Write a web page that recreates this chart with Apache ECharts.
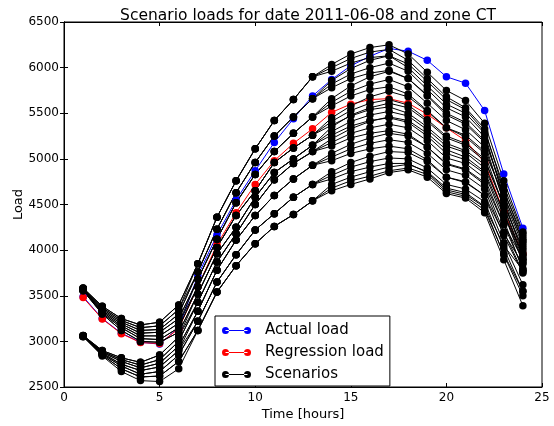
<!DOCTYPE html>
<html><head><meta charset="utf-8">
<script src="https://cdn.jsdelivr.net/npm/echarts@6/dist/echarts.min.js"></script>
<style>html,body{margin:0;padding:0;background:#fff}#c{width:554px;height:426px}</style>
</head><body><div id="c"></div>
<script>
const hours = [1,2,3,4,5,6,7,8,9,10,11,12,13,14,15,16,17,18,19,20,21,22,23,24];
const actualLoad = [3490,3250,3090,2990,2970,3150,3720,4165,4550,4870,5180,5440,5690,5870,6020,6125,6210,6180,6080,5900,5830,5530,4835,4240];
const regressionLoad = [3480,3246,3084,2987,2976,3140,3600,4060,4410,4720,4980,5170,5330,5510,5600,5650,5660,5610,5490,5340,5200,4960,4420,3960];

const s01 = [3585,3385,3250,3180,3210,3400,3850,4360,4760,5110,5420,5650,5900,6035,6150,6220,6250,6150,5950,5750,5640,5390,4760,4200];
const s02 = [3580,3370,3230,3150,3170,3350,3850,4360,4760,5110,5420,5650,5900,6000,6100,6170,6200,6080,5880,5680,5560,5330,4650,4150];
const s03 = [3585,3385,3250,3180,3210,3400,3850,4360,4760,5110,5420,5650,5900,5960,6050,6110,6130,6000,5800,5600,5500,5280,4560,4050];
const s04 = [3580,3370,3230,3150,3170,3350,3760,4230,4630,4960,5250,5460,5660,5860,5990,6080,6130,6040,5850,5650,5540,5300,4700,4180];
const s05 = [3575,3355,3210,3120,3130,3300,3760,4230,4630,4960,5250,5460,5660,5820,5930,6000,6050,5960,5760,5560,5460,5240,4600,4100];
const s06 = [3575,3355,3210,3120,3130,3300,3760,4230,4630,4960,5250,5460,5660,5780,5880,5940,5970,5880,5690,5480,5380,5180,4520,3990];
const s07 = [3570,3340,3190,3090,3100,3250,3680,4120,4520,4830,5080,5280,5460,5660,5800,5900,5960,5880,5700,5500,5400,5200,4650,4120];
const s08 = [3570,3340,3190,3090,3100,3250,3680,4120,4520,4830,5080,5280,5460,5620,5740,5820,5870,5790,5610,5420,5320,5130,4550,3950];
const s09 = [3565,3325,3170,3060,3060,3200,3680,4120,4520,4830,5080,5280,5460,5580,5690,5760,5790,5710,5530,5340,5240,5060,4470,3900];
const s10 = [3565,3325,3170,3060,3060,3200,3600,4030,4380,4650,4960,5120,5260,5450,5580,5680,5740,5680,5520,5340,5260,5080,4600,4080];
const s11 = [3560,3310,3150,3030,3020,3150,3600,4030,4380,4650,4960,5120,5260,5410,5530,5610,5650,5590,5430,5250,5170,5000,4480,3930];
const s12 = [3560,3310,3150,3030,3020,3150,3600,4030,4380,4650,4960,5120,5260,5370,5470,5540,5570,5500,5350,5170,5090,4940,4400,3860];
const s13 = [3555,3300,3120,3000,2990,3100,3520,3960,4250,4580,4850,5000,5150,5350,5480,5560,5610,5560,5410,5230,5150,4980,4500,4020];
const s14 = [3555,3300,3120,3000,2990,3100,3520,3960,4250,4580,4850,5000,5150,5300,5410,5480,5520,5470,5320,5140,5070,4900,4420,3880];
const s15 = [3065,2900,2820,2770,2850,3050,3520,3960,4250,4580,4850,5000,5150,5260,5360,5420,5450,5400,5250,5060,4990,4840,4330,3780];
const s16 = [3065,2900,2820,2770,2850,3050,3430,3870,4180,4500,4770,4950,5080,5220,5330,5410,5460,5420,5280,5100,5020,4860,4380,3960];
const s17 = [3062,2890,2800,2740,2800,3000,3430,3870,4180,4500,4770,4950,5080,5180,5280,5340,5380,5340,5200,5010,4950,4790,4280,3800];
const s18 = [3062,2890,2800,2740,2800,3000,3430,3870,4180,4500,4770,4950,5080,5140,5230,5280,5310,5270,5130,4940,4880,4720,4200,3760];
const s19 = [3060,2880,2780,2710,2760,2950,3330,3780,4110,4380,4600,4780,4930,5060,5160,5230,5280,5250,5130,4950,4890,4740,4280,3900];
const s20 = [3060,2880,2780,2710,2760,2950,3330,3780,4110,4380,4600,4780,4930,5020,5110,5170,5210,5180,5060,4880,4820,4670,4160,3750];
const s21 = [3058,2870,2750,2680,2720,2900,3330,3780,4110,4380,4600,4780,4930,4980,5060,5110,5140,5110,4990,4800,4750,4600,4080,3620];
const s22 = [3058,2870,2750,2680,2720,2900,3220,3650,3950,4220,4400,4580,4720,4860,4960,5030,5080,5070,4970,4800,4740,4600,4180,3850];
const s23 = [3056,2860,2730,2640,2670,2850,3220,3650,3950,4220,4400,4580,4720,4820,4910,4970,5010,5000,4900,4720,4670,4530,4020,3550];
const s24 = [3056,2860,2730,2640,2670,2850,3220,3650,3950,4220,4400,4580,4720,4780,4860,4910,4950,4950,4850,4660,4610,4470,3950,3500];
const s25 = [3054,2850,2700,2610,2620,2780,3120,3540,3830,4070,4260,4390,4540,4720,4800,4860,4910,4940,4860,4680,4630,4480,4050,3780];
const s26 = [3054,2850,2700,2610,2620,2780,3120,3540,3830,4070,4260,4390,4540,4680,4760,4810,4870,4900,4830,4640,4590,4440,3960,3550];
const s27 = [3052,2840,2670,2570,2560,2700,3120,3540,3830,4070,4260,4390,4540,4650,4720,4780,4850,4880,4800,4620,4570,4410,3895,3390];
const scenarios = [s01,s02,s03,s04,s05,s06,s07,s08,s09,s10,s11,s12,s13,s14,s15,s16,s17,s18,s19,s20,s21,s22,s23,s24,s25,s26,s27];

const xTicks = [0,5,10,15,20,25];
const yTicks = [2500,3000,3500,4000,4500,5000,5500,6000,6500];

const FONT = 'DejaVu Sans';
const legendIcon = 'path://M0,3.5a3.5,3.5 0 1,0 7,0a3.5,3.5 0 1,0 -7,0Z M22,3.5a3.5,3.5 0 1,0 7,0a3.5,3.5 0 1,0 -7,0Z M3.5,3L25.5,3L25.5,4L3.5,4Z';

function pairs(arr){ return hours.map((h,i)=>[h,arr[i]]); }
function lineSeries(name,color,arr){
  return {name:name,type:'line',xAxisIndex:0,yAxisIndex:0,data:pairs(arr),
    symbol:'circle',symbolSize:7.5,showSymbol:true,
    lineStyle:{color:color,width:1},itemStyle:{color:color},
    emphasis:{disabled:true},animation:false};
}
const series = [lineSeries('Actual load','#0000ff',actualLoad),
                lineSeries('Regression load','#ff0000',regressionLoad)];
scenarios.forEach(s=>series.push(lineSeries('Scenarios','#000000',s)));

const axisCommon = {
  axisLine:{show:true,lineStyle:{color:'#000',width:1}},
  axisTick:{show:true,inside:true,length:4,lineStyle:{color:'#000'}},
  splitLine:{show:false}
};
const chart = echarts.init(document.getElementById('c'),null,{renderer:'canvas'});
chart.setOption({
  animation:false,
  backgroundColor:'#fff',
  title:{text:'Scenario loads for date 2011-06-08 and zone CT',left:303,textAlign:'center',top:3,
    textStyle:{fontFamily:FONT,fontSize:15.5,fontWeight:'normal',color:'#000'}},
  grid:{left:64,right:12,top:22,bottom:34,show:true,borderColor:'#000',borderWidth:1},
  legend:{data:['Actual load','Regression load','Scenarios'],orient:'vertical',left:215,top:316,
    padding:[7,6,4,7],itemGap:7,itemWidth:29,itemHeight:7,icon:legendIcon,
    borderColor:'#000',borderWidth:1,backgroundColor:'#fff',borderRadius:0,
    textStyle:{fontFamily:FONT,fontSize:15,color:'#000',padding:[0,0,0,9]}},
  xAxis:[
    Object.assign({type:'value',min:0,max:25,interval:5,position:'bottom',
      name:'Time [hours]',nameLocation:'middle',nameGap:21,nameMoveOverlap:false,
      nameTextStyle:{fontFamily:FONT,fontSize:13,color:'#000'},
      axisLabel:{fontFamily:FONT,fontSize:12,color:'#000',margin:5}},axisCommon),
    Object.assign({type:'value',min:0,max:25,interval:5,position:'top',axisLabel:{show:false}},axisCommon)
  ],
  yAxis:[
    Object.assign({type:'value',min:2500,max:6500,interval:500,position:'left',
      name:'Load',nameLocation:'middle',nameGap:39,nameMoveOverlap:false,
      nameTextStyle:{fontFamily:FONT,fontSize:13,color:'#000'},
      axisLabel:{fontFamily:FONT,fontSize:12,color:'#000',margin:5,formatter:v=>String(v)}},axisCommon),
    Object.assign({type:'value',min:2500,max:6500,interval:500,position:'right',axisLabel:{show:false}},axisCommon)
  ],
  series:series
});
</script></body></html>
